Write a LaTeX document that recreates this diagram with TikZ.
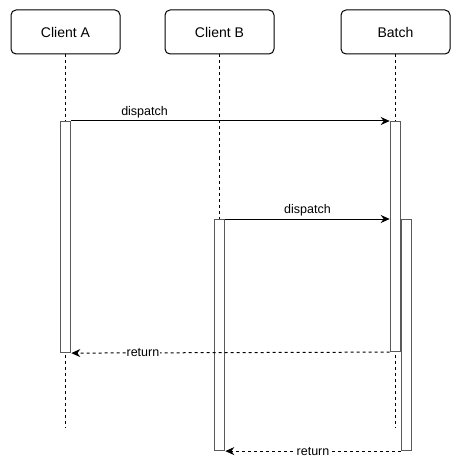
\documentclass[tikz,border=0pt]{standalone}
\usepackage{fontspec}
\setmainfont{Liberation Sans}
\usetikzlibrary{arrows.meta, positioning}
\definecolor{bargray}{HTML}{5A5A5A}
\tikzset{
    actor/.style={rectangle, draw=black, line width=1pt, fill=white, rounded corners=5pt, minimum width=109pt, minimum height=44pt, inner sep=0pt, font=\fontsize{14}{16}\selectfont},
    activation/.style={rectangle, draw=bargray, fill=white, line width=1.1pt, minimum width=10.5pt, inner sep=0pt, anchor=north},
    lifeline/.style={dashed, draw=black, line width=1pt},
    msglabel/.style={fill=white, inner sep=1pt, font=\fontsize{12.5}{14}\selectfont},
    callarrow/.style={-{Stealth[length=9pt, width=8pt]}, draw=black, line width=1pt},
    replyarrow/.style={-{Stealth[length=9pt, width=8pt]}, dashed, draw=black, line width=1pt}
}

\begin{document}
\begin{tikzpicture}[x=1pt, y=-1pt]
        \useasboundingbox (0,0) rectangle (462,473);
        % participants
        \node[actor] (clientA) at (65.5,32) {Client A};
        \node[actor] (clientB) at (219.5,32) {Client B};
        \node[actor] (batch) at (395.5,32) {Batch};
        % lifeline ends
        \coordinate (endA) at (65.5,428);
        \coordinate (endBatch) at (395.5,428);
        % activation bars
        \draw[lifeline] (clientA) -- (endA);
        \draw[lifeline] (clientB.south) -- (219.5,219);
        \draw[lifeline] (batch) -- (endBatch);
        \node[activation, minimum height=231pt] (actA) at (65.5,121) {};
        \node[activation, minimum height=231pt] (actB) at (219.5,219) {};
        \node[activation, minimum height=230pt] (actBatchA) at (395.5,121) {};
        \node[activation, minimum height=231pt] (actBatchB) at (406.5,219) {};
        % messages
        \draw[callarrow] (actA.north east) -- (actBatchA.north west) node[msglabel, pos=0.23, above=1pt] {dispatch};
        \draw[callarrow] (actB.north east) -- (actB.north east -| actBatchA.west) node[msglabel, pos=0.5, above=1pt] {dispatch};
        \draw[replyarrow] (actBatchA.south west) -- (actA.south east) node[msglabel, pos=0.775] {return};
        \draw[replyarrow] (actBatchB.south west) -- (actB.south east) node[msglabel, pos=0.5] {return};
    \end{tikzpicture}
\end{document}
